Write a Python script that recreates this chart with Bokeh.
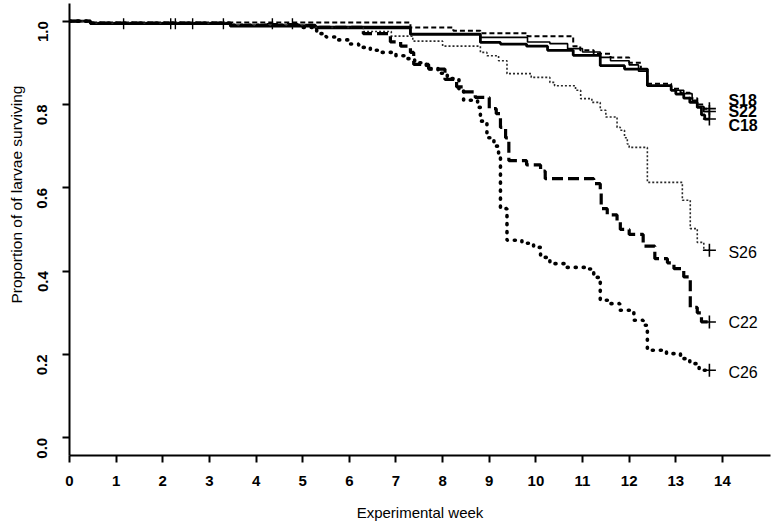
import math
from bokeh.plotting import figure
from bokeh.models import FixedTicker, PrintfTickFormatter, Range1d, Title
from bokeh.core.properties import value
from bokeh.embed import file_html
from bokeh.resources import INLINE

# ---------------- data ----------------
week_ticks = [0, 1, 2, 3, 4, 5, 6, 7, 8, 9, 10, 11, 12, 13, 14]
surv_ticks = [0.0, 0.2, 0.4, 0.6, 0.8, 1.0]

x_label = "Experimental week"
y_label = "Proportion of  of larvae surviving"

end_week = 13.72

s18_t = [0, 0.45, 7.31, 8.23, 8.81, 9.82, 10.8, 10.95, 11.24, 11.6, 12.0, 12.25, 12.39, 12.9, 13.1, 13.3, 13.46, 13.6]
s18_s = [1.0, 0.997, 0.985, 0.977, 0.971, 0.964, 0.94, 0.93, 0.922, 0.913, 0.9, 0.885, 0.85, 0.838, 0.828, 0.815, 0.8, 0.79]

s22_t = [0, 0.45, 3.45, 5.27, 7.31, 8.81, 9.82, 10.3, 10.68, 11.0, 11.38, 11.6, 12.0, 12.2, 12.39, 12.9, 13.17, 13.35, 13.46, 13.6]
s22_s = [1.0, 0.995, 0.99, 0.987, 0.97, 0.961, 0.95, 0.946, 0.934, 0.926, 0.913, 0.905, 0.895, 0.88, 0.845, 0.834, 0.826, 0.81, 0.795, 0.783]

c18_t = [0, 0.45, 3.45, 5.27, 7.31, 8.81, 9.24, 9.8, 10.25, 10.8, 11.38, 11.9, 12.39, 12.9, 13.0, 13.17, 13.3, 13.46, 13.55, 13.62]
c18_s = [1.0, 0.994, 0.988, 0.984, 0.968, 0.949, 0.945, 0.94, 0.93, 0.918, 0.893, 0.885, 0.845, 0.834, 0.825, 0.815, 0.805, 0.793, 0.775, 0.765]

s26_t = [0, 0.45, 3.45, 5.27, 6.3, 6.9, 7.36, 8.0, 8.81, 8.95, 9.2, 9.38, 9.9, 10.3, 10.4, 10.85, 10.96, 11.2, 11.38, 11.5, 11.74, 11.81, 11.9, 11.96, 12.0, 12.39, 13.14, 13.31, 13.46, 13.6]
s26_s = [1.0, 0.995, 0.99, 0.985, 0.975, 0.964, 0.952, 0.94, 0.925, 0.917, 0.905, 0.874, 0.865, 0.853, 0.845, 0.834, 0.814, 0.805, 0.786, 0.77, 0.745, 0.738, 0.72, 0.705, 0.697, 0.613, 0.57, 0.502, 0.469, 0.45]

c22_t = [0, 0.45, 3.45, 5.27, 6.3, 6.88, 7.1, 7.31, 7.38, 7.7, 8.05, 8.3, 8.45, 8.7, 9.0, 9.15, 9.24, 9.35, 9.42, 9.8, 10.1, 10.2, 11.24, 11.38, 11.4, 11.53, 11.74, 11.81, 12.0, 12.3, 12.55, 12.82, 12.96, 13.17, 13.31, 13.46, 13.55]
c22_s = [1.0, 0.995, 0.99, 0.985, 0.97, 0.95, 0.94, 0.925, 0.896, 0.885, 0.86, 0.842, 0.83, 0.817, 0.79, 0.778, 0.745, 0.72, 0.665, 0.655, 0.64, 0.622, 0.61, 0.59, 0.55, 0.535, 0.52, 0.5, 0.488, 0.46, 0.43, 0.42, 0.406, 0.386, 0.313, 0.3, 0.278]

c26_t = [0, 0.45, 3.45, 5.0, 5.3, 5.5, 5.75, 6.0, 6.2, 6.45, 6.65, 7.0, 7.2, 7.4, 7.65, 7.9, 8.1, 8.35, 8.45, 8.75, 8.81, 8.95, 9.1, 9.2, 9.24, 9.38, 9.7, 9.95, 10.1, 10.3, 10.65, 11.05, 11.24, 11.38, 11.55, 11.8, 12.1, 12.3, 12.39, 12.8, 13.1, 13.3, 13.5]
c26_s = [1.0, 0.995, 0.99, 0.985, 0.97, 0.962, 0.955, 0.945, 0.937, 0.93, 0.925, 0.917, 0.91, 0.9, 0.886, 0.875, 0.862, 0.835, 0.81, 0.793, 0.76, 0.72, 0.70, 0.68, 0.55, 0.474, 0.467, 0.457, 0.433, 0.418, 0.409, 0.405, 0.385, 0.33, 0.322, 0.306, 0.282, 0.27, 0.21, 0.202, 0.19, 0.178, 0.162]

censor_weeks = [1.16, 2.17, 2.27, 2.64, 3.3, 4.35, 4.78]
censor_surv = [0.994, 0.994, 0.994, 0.994, 0.994, 0.994, 0.994]

group_names = ["S18", "S22", "C18", "S26", "C22", "C26"]
group_times = [s18_t, s22_t, c18_t, s26_t, c22_t, c26_t]
group_surv = [s18_s, s22_s, c18_s, s26_s, c22_s, c26_s]

# ---------------- styles ----------------
FONT = "Liberation Sans"
styles = {
    "S18": dict(line_width=2.0, line_dash="5 3", line_color="black", line_cap="butt"),
    "S22": dict(line_width=1.6, line_dash="solid", line_color="black", line_cap="butt"),
    "C18": dict(line_width=2.8, line_dash="solid", line_color="black", line_cap="butt"),
    "S26": dict(line_width=1.6, line_dash="2 2", line_color="#2a2a2a", line_cap="butt"),
    "C22": dict(line_width=3.2, line_dash="11 5", line_color="black", line_cap="butt"),
    "C26": dict(line_width=3.6, line_dash="1 7", line_color="black", line_cap="round"),
}
label_dy = {"S18": -8, "S22": 0, "C18": 6, "S26": 2, "C22": 1, "C26": 2}
label_bold = {"S18": True, "S22": True, "C18": True, "S26": False, "C22": False, "C26": False}

p = figure(width=780, height=525, output_backend="svg", toolbar_location=None,
           x_range=Range1d(0, 15.03), y_range=Range1d(-0.0425, 1.0423),
           min_border_left=69, min_border_right=10, min_border_top=3, min_border_bottom=70)
p.outline_line_color = None
p.xgrid.visible = False
p.ygrid.visible = False
p.background_fill_color = "white"
p.border_fill_color = "white"

for name, t, s in zip(group_names, group_times, group_surv):
    xs = list(t) + [end_week]
    ys = list(s) + [s[-1]]
    p.step(xs, ys, mode="after", **styles[name])

# censoring marks
p.scatter(censor_weeks, censor_surv, marker="cross", size=11, line_width=1.4, line_color="black")
end_s = [s[-1] for s in group_surv]
p.scatter([end_week] * len(group_names), end_s, marker="cross", size=13, line_width=1.6, line_color="black")

# group labels
for name, s in zip(group_names, group_surv):
    p.text([end_week], [s[-1]], text=[name], x_offset=19, y_offset=label_dy[name],
           text_align="left", text_baseline="middle", text_font=value(FONT),
           text_font_size="16px", text_font_style="bold" if label_bold[name] else "normal",
           text_color="black")

# axes
for ax in (p.xaxis[0], p.yaxis[0]):
    ax.axis_line_color = "black"
    ax.axis_line_width = 2
    ax.major_tick_line_color = "black"
    ax.major_tick_line_width = 2
    ax.major_tick_in = 0
    ax.major_tick_out = 7
    ax.minor_tick_line_color = None
    ax.major_label_text_font = FONT
    ax.major_label_text_font_style = "bold"
    ax.major_label_text_font_size = "15px"
    ax.major_label_text_color = "black"

p.xaxis.ticker = FixedTicker(ticks=week_ticks)
p.xaxis.major_label_standoff = 13
p.xaxis.axis_label = x_label
p.xaxis.axis_label_text_font = FONT
p.xaxis.axis_label_text_font_style = "normal"
p.xaxis.axis_label_text_font_size = "15px"
p.xaxis.axis_label_standoff = 15
p.xaxis.axis_label_text_color = "black"

p.yaxis.ticker = FixedTicker(ticks=surv_ticks)
p.yaxis.formatter = PrintfTickFormatter(format="%.1f")
p.yaxis.major_label_orientation = math.pi / 2
p.yaxis.major_label_standoff = 20

ytitle = Title(text=y_label, align="left", offset=152, standoff=10,
               text_font=FONT, text_font_size="15.5px", text_font_style="normal",
               text_color="black")
p.add_layout(ytitle, "left")

open("out.html", "w").write(file_html(p, INLINE))
